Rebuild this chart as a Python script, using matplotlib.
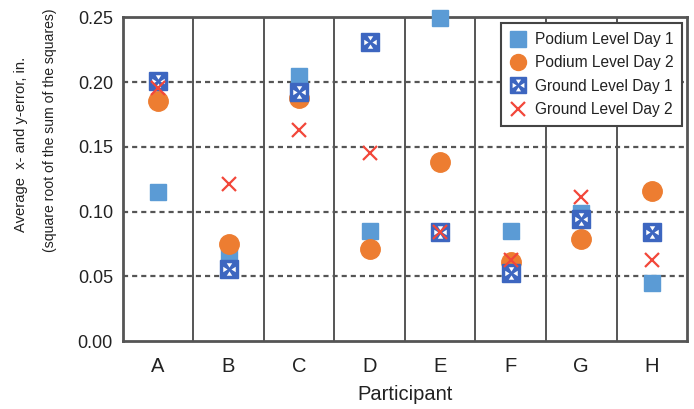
import matplotlib
matplotlib.use("Agg")
import matplotlib.pyplot as plt
import numpy as np
from matplotlib.path import Path
from matplotlib.lines import Line2D
from matplotlib.legend_handler import HandlerTuple

plt.rcParams['font.family'] = ['Liberation Sans', 'DejaVu Sans']

participants = ["A", "B", "C", "D", "E", "F", "G", "H"]
podium_day1 = [0.115, 0.065, 0.2045, 0.085, 0.249, 0.085, 0.099, 0.045]
podium_day2 = [0.185, 0.075, 0.188, 0.071, 0.138, 0.061, 0.079, 0.116]
ground_day1 = [0.201, 0.056, 0.192, 0.231, 0.084, 0.0525, 0.094, 0.084]
ground_day2 = [0.195, 0.121, 0.163, 0.145, 0.084, 0.063, 0.111, 0.063]
series_names = ["Podium Level Day 1", "Podium Level Day 2",
                "Ground Level Day 1", "Ground Level Day 2"]
y_ticks = [0.00, 0.05, 0.10, 0.15, 0.20, 0.25]

c_pod1 = "#5b9bd5"
c_pod2 = "#ed7d31"
c_gnd1 = "#3d66c0"
c_gnd2 = "#f2473a"
c_text = "#222222"

# four small inward-pointing triangles used as the inset on the ground-level squares
verts = []
codes = []
for ang in (90, 270, 0, 180):
    a = np.deg2rad(ang)
    d = np.array([np.cos(a), np.sin(a)])
    p = np.array([-np.sin(a), np.cos(a)])
    tip = d * 0.25
    b1 = d * 0.8 + p * 0.35
    b2 = d * 0.8 - p * 0.35
    verts += [tuple(tip), tuple(b1), tuple(b2), tuple(tip)]
    codes += [Path.MOVETO, Path.LINETO, Path.LINETO, Path.CLOSEPOLY]
inset_path = Path(verts, codes)

fig = plt.figure(figsize=(6.94, 4.09), dpi=100)
ax = fig.add_axes([0.1768, 0.1655, 0.8132, 0.7925])

x = np.arange(len(participants))

ax.plot(x, podium_day1, linestyle="none", marker="s", ms=12, color=c_pod1,
        zorder=3, clip_on=False)
ax.plot(x, podium_day2, linestyle="none", marker="o", ms=14, color=c_pod2,
        zorder=4, clip_on=False)
ax.plot(x, ground_day1, linestyle="none", marker="s", ms=13, color=c_gnd1,
        zorder=5, clip_on=False)
ax.plot(x, ground_day1, linestyle="none", marker=inset_path, ms=9,
        color="white", markeredgewidth=0, zorder=5.5, clip_on=False)
ax.plot(x, ground_day2, linestyle="none", marker="x", ms=10, mew=1.6,
        color=c_gnd2, zorder=6, clip_on=False)

ax.set_xlim(-0.5, len(participants) - 0.5)
ax.set_ylim(0, 0.25)
ax.set_xticks(x)
ax.set_xticklabels(participants)
ax.set_yticks(y_ticks)
ax.set_yticklabels([f"{v:.2f}" for v in y_ticks])
ax.tick_params(axis="y", length=0, labelsize=13, colors=c_text, pad=7)
ax.tick_params(axis="x", length=0, labelsize=14.5, colors=c_text, pad=11)

for v in y_ticks[1:-1]:
    ax.axhline(v, color="#555555", lw=1.6, ls=(0, (2.3, 1.8)), zorder=1)
for k in range(1, len(participants)):
    ax.axvline(k - 0.5, color="#555555", lw=1.4, zorder=1)

for sp in ax.spines.values():
    sp.set_color("#555555")
    sp.set_linewidth(2)

ax.set_xlabel("Participant", fontsize=14.5, color=c_text, labelpad=7)

# two-line y-axis title
fig.text(21 / 694, 1 - 144 / 409, "Average  x- and y-error, in.", rotation=90,
         ha="center", va="center", fontsize=10.6, color=c_text)
fig.text(50 / 694, 1 - 130 / 409, "(square root of the sum of the squares)",
         rotation=90, ha="center", va="center", fontsize=10.1, color=c_text)

# legend keys
k1 = Line2D([], [], linestyle="none", marker="s", ms=12, color=c_pod1)
k2 = Line2D([], [], linestyle="none", marker="o", ms=11.5, color=c_pod2)
k3a = Line2D([], [], linestyle="none", marker="s", ms=12, color=c_gnd1)
k3b = Line2D([], [], linestyle="none", marker=inset_path, ms=8.5,
             color="white", markeredgewidth=0)
k4 = Line2D([], [], linestyle="none", marker="x", ms=10, mew=1.6, color=c_gnd2)

leg = ax.legend([k1, k2, (k3a, k3b), k4], series_names,
                handler_map={tuple: HandlerTuple(ndivide=1, pad=0)},
                loc="upper right", bbox_to_anchor=(0.9915, 0.981),
                fontsize=11.2, frameon=True, fancybox=False,
                borderpad=0.56, labelspacing=0.54, handlelength=1.0,
                handletextpad=0.6, borderaxespad=0)
leg.get_frame().set_edgecolor("#444444")
leg.get_frame().set_linewidth(1.5)
leg.get_frame().set_alpha(1)
for t in leg.get_texts():
    t.set_color(c_text)
leg.set_zorder(7)

fig.savefig("out.png", dpi=100)
